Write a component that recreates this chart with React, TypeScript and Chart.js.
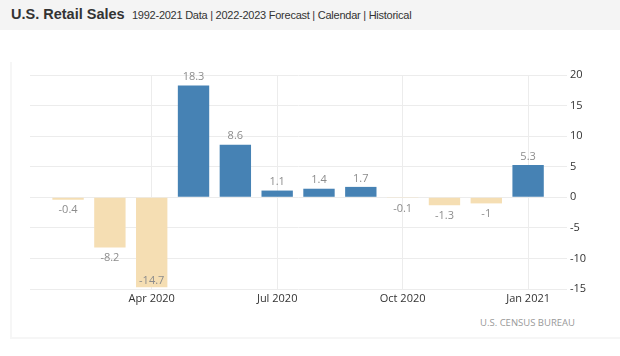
import React, { useEffect, useRef } from "react";
import { Chart, registerables } from "chart.js";

Chart.register(...registerables);

const months = ["Feb 2020", "Mar 2020", "Apr 2020", "May 2020", "Jun 2020", "Jul 2020", "Aug 2020", "Sep 2020", "Oct 2020", "Nov 2020", "Dec 2020", "Jan 2021"];
const values = [-0.4, -8.2, -14.7, 18.3, 8.6, 1.1, 1.4, 1.7, -0.1, -1.3, -1, 5.3];
const shownMonths = ["Apr 2020", "Jul 2020", "Oct 2020", "Jan 2021"];
const yMin = -15;
const yMax = 20;
const yStep = 5;

const POS = "#4682b4";
const NEG = "#f5deb3";
const GRID = "#ececec";

const labelPlugin = {
  id: "barLabels",
  afterDatasetsDraw(chart: any) {
    const { ctx, chartArea } = chart;
    const meta = chart.getDatasetMeta(0);
    ctx.save();
    ctx.font = "11px 'Open Sans'";
    ctx.fillStyle = "#8c8c8c";
    ctx.textAlign = "center";
    meta.data.forEach((bar: any, i: number) => {
      const v = values[i];
      const txt = String(v);
      if (v >= 0) {
        ctx.textBaseline = "bottom";
        ctx.fillText(txt, bar.x, bar.y - 3);
      } else {
        const y = bar.y + 5;
        if (y + 13 > chartArea.bottom) {
          ctx.textBaseline = "bottom";
          ctx.fillText(txt, bar.x, bar.y - 1);
        } else {
          ctx.textBaseline = "top";
          ctx.fillText(txt, bar.x, y);
        }
      }
    });
    ctx.restore();
  },
};

export default function App() {
  const ref = useRef<HTMLCanvasElement | null>(null);
  useEffect(() => {
    if (!ref.current) return;
    const chart = new Chart(ref.current, {
      type: "bar",
      data: {
        datasets: [
          {
            data: values.map((v, i) => ({ x: i, y: v })),
            backgroundColor: values.map((v) => (v >= 0 ? POS : NEG)),
            barPercentage: 0.75,
            categoryPercentage: 1,
          },
        ],
      },
      options: {
        animation: false,
        responsive: false,
        maintainAspectRatio: false,
        layout: { padding: { left: 30, top: 35, right: 0, bottom: 0 } },
        plugins: { legend: { display: false }, tooltip: { enabled: false } },
        scales: {
          x: {
            type: "linear",
            offset: false,
            min: -0.91,
            max: 11.93,
            afterBuildTicks: (scale: any) => {
              scale.ticks = shownMonths.map((m) => ({ value: months.indexOf(m) }));
            },
            afterFit: (scale: any) => {
              scale.height = 21;
            },
            ticks: {
              callback: (v: any) => months[v] ?? "",
              color: "#333",
              font: { family: "'Open Sans'", size: 11 },
              padding: 3,
              maxRotation: 0,
              autoSkip: false,
            },
            grid: { color: GRID, drawTicks: false, offset: false },
            border: { display: false },
          },
          y: {
            position: "right",
            min: yMin,
            max: yMax,
            ticks: {
              stepSize: yStep,
              color: "#333",
              font: { family: "'Open Sans'", size: 11 },
              padding: 3,
            },
            afterFit: (scale: any) => {
              scale.width = 53;
            },
            grid: { color: GRID, drawTicks: false },
            border: { display: false },
          },
        },
      },
      plugins: [labelPlugin],
    });
    return () => chart.destroy();
  }, []);

  return (
    <div style={{ position: "fixed", left: 0, top: 0, width: 620, height: 356, background: "#fff", overflow: "hidden" }}>
      <div style={{ position: "absolute", left: 0, top: 0, width: 620, height: 30, background: "#f4f4f4" }} />
      <div style={{ position: "absolute", left: 11, top: 6, fontFamily: "'Liberation Sans', Arial, sans-serif", fontWeight: "bold", fontSize: 14.5, color: "#333", whiteSpace: "nowrap" }}>
        U.S. Retail Sales
      </div>
      <div style={{ position: "absolute", left: 132, top: 9, fontFamily: "'Liberation Sans', Arial, sans-serif", fontSize: 11, letterSpacing: -0.25, color: "#333", whiteSpace: "nowrap" }}>
        1992-2021 Data | 2022-2023 Forecast | Calendar | Historical
      </div>
      <div style={{ position: "absolute", left: 10, top: 62, width: 610, height: 275, borderLeft: "2px solid #f6f6f6", borderBottom: "2px solid #f6f6f6" }} />
      <canvas ref={ref} width={620} height={270} style={{ position: "absolute", left: 0, top: 40, width: 620, height: 270 }} />
      <div style={{ position: "absolute", right: 45, top: 316, fontFamily: "'Open Sans', sans-serif", fontSize: 9.5, letterSpacing: 0, color: "#999", whiteSpace: "nowrap" }}>
        U.S. CENSUS BUREAU
      </div>
    </div>
  );
}
